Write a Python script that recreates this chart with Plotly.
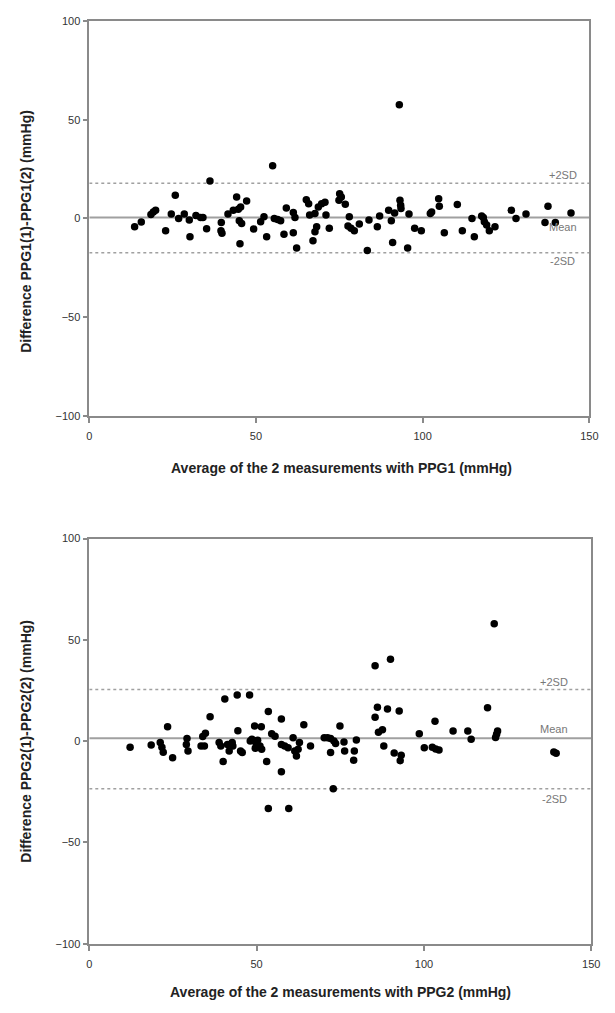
import plotly.graph_objects as go

# ---------------- data ----------------
ppg1_avg = [13.6, 15.6, 18.5, 19.2, 19.9, 22.9, 25.8, 24.6, 26.8, 28.5, 30.0, 30.2, 32.0, 33.4, 34.1,
            35.2, 36.2, 39.6, 39.5, 39.8, 41.6, 43.2, 44.2, 44.7, 45.4, 45.0, 45.7, 45.2, 47.2, 49.3,
            55.0, 51.4, 52.4, 53.2, 55.5, 56.5, 57.4, 58.4, 59.1, 61.2, 61.7, 61.2, 62.2, 65.1, 65.8,
            66.1, 67.7, 68.7, 69.7, 70.7, 68.2, 67.7, 67.1, 71.0, 72.0, 75.1, 75.6, 76.8, 74.9, 77.6,
            78.5, 79.5, 78.0, 81.0, 83.4, 83.9, 86.4, 87.1, 89.8, 90.6, 91.0, 91.6, 93.2, 93.4, 93.5,
            95.5, 95.9, 97.6, 99.6, 93.0,
            102.3, 102.7, 104.8, 105.0, 106.5, 110.4, 111.9, 114.8, 115.5, 117.7, 118.2, 118.5, 119.2,
            120.0, 121.7, 126.6, 128.0, 131.0, 136.7, 137.6, 139.8, 144.5]
ppg1_diff = [-4.2, -1.8, 2.0, 3.3, 4.2, -6.2, 11.8, 2.2, 0.0, 2.2, -0.8, -9.2, 1.5, 0.5, 0.5,
             -5.2, 19.0, -2.0, -6.2, -7.5, 2.2, 4.2, 10.8, 4.7, 5.8, -1.2, -2.5, -12.8, 8.8, -5.3,
             26.7, -1.7, 0.8, -9.2, 0.0, -0.5, -1.2, -8.0, 5.3, 3.0, 0.5, -7.2, -15.0, 9.5, 7.5,
             1.7, 2.5, 5.8, 7.5, 8.2, -4.2, -6.7, -11.3, 1.7, -5.0, 12.5, 10.8, 7.2, 9.2, -3.8,
             -5.0, -6.2, 0.8, -2.8, -16.2, -0.8, -4.2, 1.2, 4.2, -1.2, -12.2, 2.8, 9.2, 6.7, 5.0,
             -15.0, 2.2, -5.0, -6.2, 57.5,
             2.5, 3.3, 10.0, 6.2, -7.2, 7.0, -6.2, 0.0, -9.2, 1.2, 0.5, -1.7, -3.3,
             -6.2, -4.2, 4.2, 0.0, 2.2, -2.0, 6.2, -2.0, 2.8]
ppg1_mean, ppg1_upper, ppg1_lower = 0.5, 17.8, -17.3

ppg2_avg = [12.2, 18.5, 21.2, 21.7, 22.1, 23.4, 24.9, 29.2, 29.0, 29.5, 33.4, 34.4, 33.9, 34.7, 36.1,
            38.8, 39.3, 40.0, 40.5, 41.3, 41.8, 42.9, 42.7, 44.2, 44.4, 45.2, 45.7, 47.9, 48.1, 48.6,
            49.4, 49.9,
            51.4, 53.5, 51.0, 51.5, 50.3, 49.6, 53.0, 53.5, 59.6, 54.5, 55.5, 57.4, 57.4, 57.4, 58.4,
            59.4, 60.9, 61.4, 61.9, 62.4, 62.8, 64.1, 66.1, 70.2, 71.2, 72.1, 73.1, 73.6, 72.1, 72.9,
            74.9, 76.1, 76.3, 79.0, 79.2, 79.8, 85.4, 90.0, 85.4, 86.1, 86.4, 87.6, 88.0, 89.1, 92.6,
            91.1, 93.2, 92.9, 98.6, 100.1,
            103.3, 102.5, 103.5, 104.5, 108.7, 113.1, 114.1, 119.0, 121.4, 122.0, 121.7, 138.8, 139.5,
            121.0]
ppg2_diff = [-3.0, -1.9, -0.6, -3.0, -5.5, 7.1, -8.2, 1.3, -1.6, -4.8, -2.4, -2.4, 2.3, 3.9, 12.0,
             -0.6, -2.4, -10.0, 20.8, -1.6, -4.8, -2.4, -0.6, 22.8, 5.2, -4.8, -5.6, 22.8, 0.1, 0.9,
             7.5, -1.6,
             7.1, 14.7, -2.4, -4.0, 0.5, -3.5, -10.0, -33.2, -33.2, 3.7, 2.4, 11.0, -15.1, -1.6, -2.4,
             -3.2, 1.7, -4.8, -7.3, -4.0, -0.6, 8.1, -2.4, 1.7, 1.7, 1.3, 0.1, -1.1, -5.6, -23.5,
             7.5, -0.4, -4.8, -9.4, -4.8, 0.6, 37.3, 40.5, 11.8, 16.8, 4.4, 5.7, -2.4, 15.9, 14.9,
             -5.8, -6.9, -9.6, 3.7, -3.2,
             9.8, -3.0, -3.8, -4.3, 5.0, 5.0, 1.0, 16.5, 1.8, 5.0, 3.4, -5.4, -6.0,
             58.0]
ppg2_mean, ppg2_upper, ppg2_lower = 1.5, 25.5, -23.5

x_range = [0, 150]
y_range = [-100, 100]
x_ticks = [0, 50, 100, 150]
y_ticks = [-100, -50, 0, 50, 100]

# ---------------- layout helpers ----------------
W, H = 615, 1013
def fx(p):
    return p / W
def fy(p):
    return 1 - p / H

AX = "#8a8a8a"
LINE = "#a0a0a0"
FONT = "Liberation Sans, Arial, sans-serif"

fig = go.Figure()

def add_panel(avg, diff, mean, upper, lower, xa, ya):
    fig.add_trace(go.Scatter(x=x_range, y=[upper, upper], mode="lines",
                             line=dict(color=LINE, width=1.5, dash="dot"),
                             xaxis=xa, yaxis=ya, hoverinfo="skip", showlegend=False))
    fig.add_trace(go.Scatter(x=x_range, y=[lower, lower], mode="lines",
                             line=dict(color=LINE, width=1.5, dash="dot"),
                             xaxis=xa, yaxis=ya, hoverinfo="skip", showlegend=False))
    fig.add_trace(go.Scatter(x=x_range, y=[mean, mean], mode="lines",
                             line=dict(color=LINE, width=2),
                             xaxis=xa, yaxis=ya, hoverinfo="skip", showlegend=False))
    fig.add_trace(go.Scatter(x=avg, y=diff, mode="markers",
                             marker=dict(color="black", size=7.5),
                             xaxis=xa, yaxis=ya, showlegend=False))

add_panel(ppg1_avg, ppg1_diff, ppg1_mean, ppg1_upper, ppg1_lower, "x", "y")
add_panel(ppg2_avg, ppg2_diff, ppg2_mean, ppg2_upper, ppg2_lower, "x2", "y2")

axis_common = dict(showline=True, mirror=True, linecolor=AX, linewidth=1.5,
                   ticks="outside", ticklen=5, tickcolor=AX, tickwidth=1.5,
                   showgrid=False, zeroline=False,
                   tickfont=dict(family=FONT, size=11, color="#333"))

fig.update_layout(
    width=W, height=H,
    margin=dict(l=0, r=0, t=0, b=0),
    paper_bgcolor="white", plot_bgcolor="white",
    xaxis=dict(domain=[fx(88), fx(598)], range=x_range, tickvals=x_ticks, anchor="y",
               ticklabelstandoff=4, **axis_common),
    yaxis=dict(domain=[fy(415), fy(15)], range=y_range, tickvals=y_ticks, anchor="x",
               **axis_common),
    xaxis2=dict(domain=[fx(88), fx(600)], range=x_range, tickvals=x_ticks, anchor="y2",
                ticklabelstandoff=4, **axis_common),
    yaxis2=dict(domain=[fy(949), fy(539)], range=y_range, tickvals=y_ticks, anchor="x2",
                **axis_common),
)

title_font = dict(family=FONT, size=14, color="#222")
lab_font = dict(family=FONT, size=11, color="#777")

ann = [
    # axis titles
    dict(text="<b>Difference PPG1(1)-PPG1(2) (mmHg)</b>", x=fx(24), y=fy(228), xref="paper", yref="paper",
         textangle=-90, showarrow=False, font=title_font, xanchor="center", yanchor="middle"),
    dict(text="<b>Average of the 2 measurements with PPG1 (mmHg)</b>", x=fx(345), y=fy(468),
         xref="paper", yref="paper", showarrow=False, font=title_font, xanchor="center", yanchor="middle"),
    dict(text="<b>Difference PPG2(1)-PPG2(2) (mmHg)</b>", x=fx(24), y=fy(744), xref="paper", yref="paper",
         textangle=-90, showarrow=False, font=title_font, xanchor="center", yanchor="middle"),
    dict(text="<b>Average of the 2 measurements with PPG2 (mmHg)</b>", x=fx(344), y=fy(998),
         xref="paper", yref="paper", showarrow=False, font=title_font, xanchor="center", yanchor="middle"),
    # reference line labels, top
    dict(text="+2SD", x=142, y=ppg1_upper, xref="x", yref="y", yshift=8, showarrow=False, font=lab_font),
    dict(text="Mean", x=142, y=ppg1_mean, xref="x", yref="y", yshift=-10, showarrow=False, font=lab_font),
    dict(text="-2SD", x=142, y=ppg1_lower, xref="x", yref="y", yshift=-8, showarrow=False, font=lab_font),
    # reference line labels, bottom
    dict(text="+2SD", x=139, y=ppg2_upper, xref="x2", yref="y2", yshift=8, showarrow=False, font=lab_font),
    dict(text="Mean", x=139, y=ppg2_mean, xref="x2", yref="y2", yshift=9, showarrow=False, font=lab_font),
    dict(text="-2SD", x=139, y=ppg2_lower, xref="x2", yref="y2", yshift=-10, showarrow=False, font=lab_font),
]
fig.update_layout(annotations=ann)

fig.write_html("out.html")
